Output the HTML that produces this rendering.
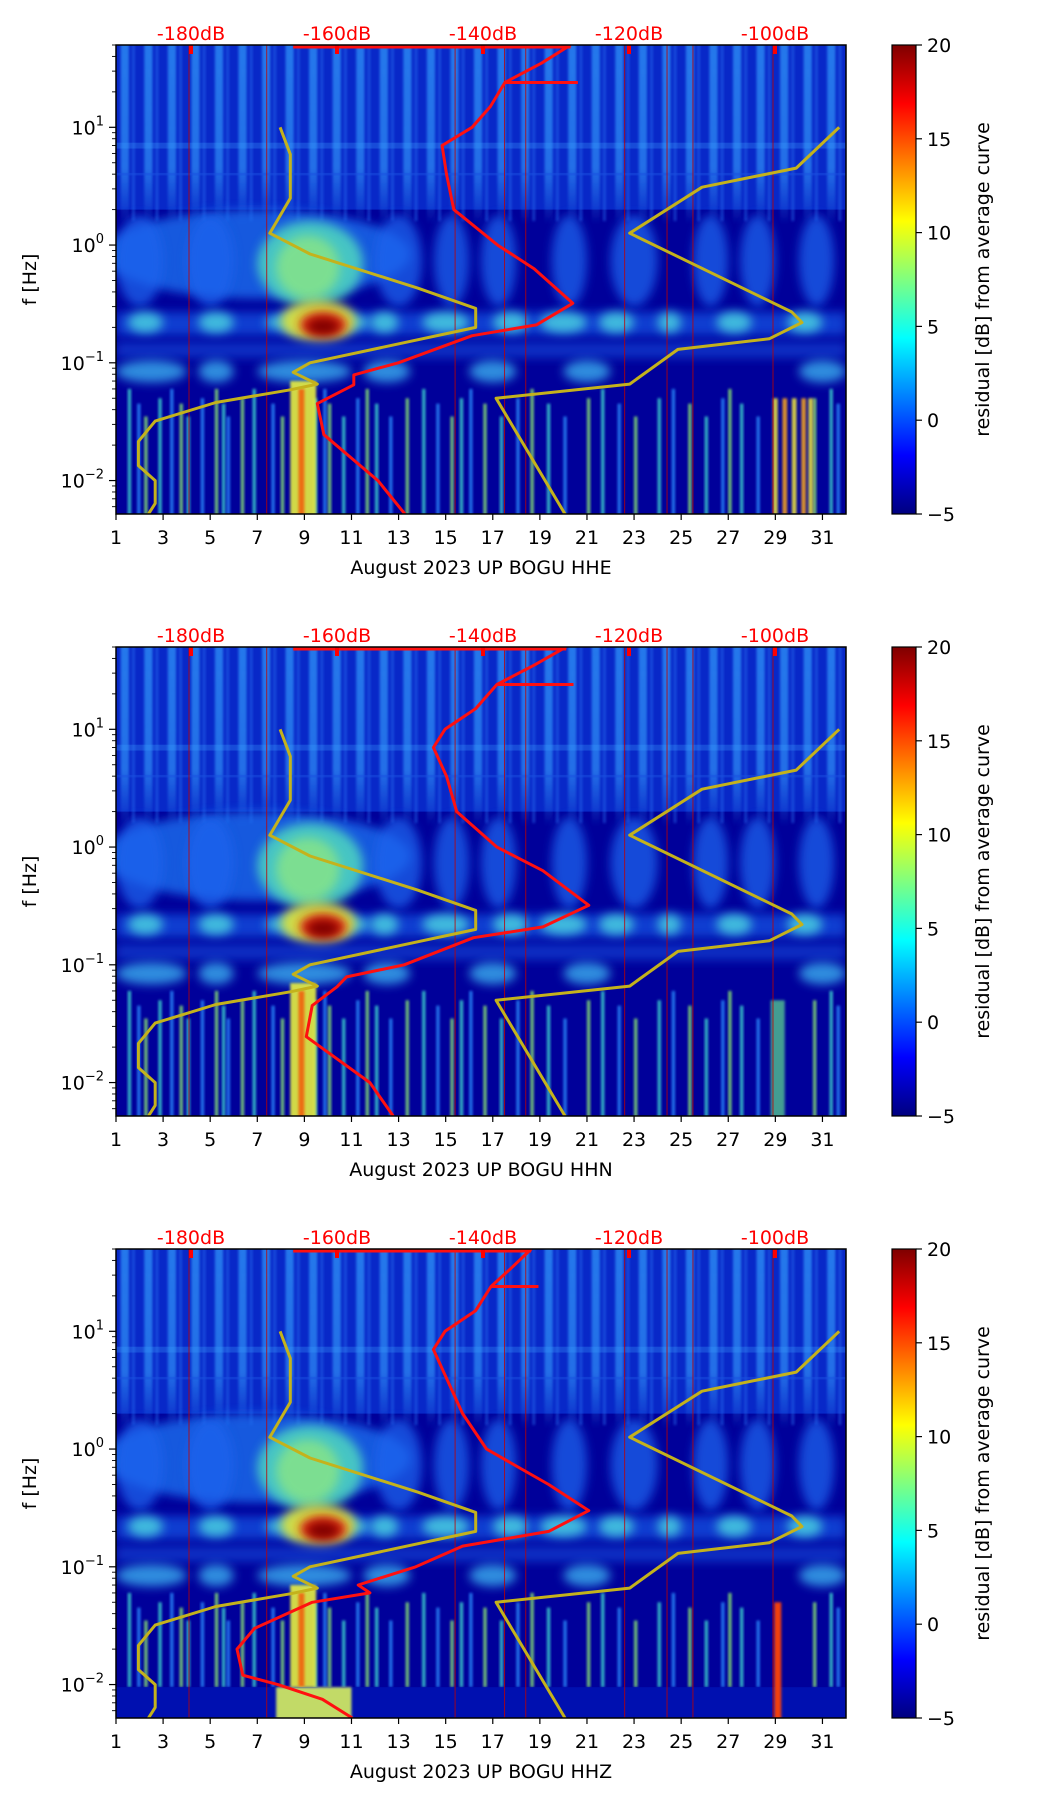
<!DOCTYPE html>
<html><head><meta charset="utf-8"><style>
html,body{margin:0;padding:0;background:#fff;}
svg{display:block;font-family:"DejaVu Sans","Liberation Sans",sans-serif;}
</style></head><body>
<svg id="fig" width="1052" height="1806" viewBox="0 0 1052 1806" xmlns="http://www.w3.org/2000/svg">
<defs>
<linearGradient id="jet" x1="0" y1="1" x2="0" y2="0">
<stop offset="0" stop-color="#00007f"/><stop offset="0.125" stop-color="#0000ff"/><stop offset="0.375" stop-color="#00ffff"/><stop offset="0.625" stop-color="#ffff00"/><stop offset="0.875" stop-color="#ff0000"/><stop offset="1" stop-color="#7f0000"/>
</linearGradient>
<linearGradient id="streakFade" x1="0" y1="0" x2="0" y2="1">
<stop offset="0" stop-color="#2e8df5" stop-opacity="0.8"/><stop offset="0.7" stop-color="#2e8df5" stop-opacity="0.7"/><stop offset="1" stop-color="#2e8df5" stop-opacity="0"/>
</linearGradient>
<linearGradient id="lowFade" x1="0" y1="0" x2="0" y2="1">
<stop offset="0" stop-color="#fff" stop-opacity="0"/><stop offset="0.3" stop-color="#fff" stop-opacity="1"/><stop offset="1" stop-color="#fff" stop-opacity="1"/>
</linearGradient>
<filter id="blur4" x="-50%" y="-50%" width="200%" height="200%"><feGaussianBlur stdDeviation="5"/></filter>
<filter id="blur2" x="-50%" y="-50%" width="200%" height="200%"><feGaussianBlur stdDeviation="1.2"/></filter>
</defs>
</svg>
<script>
// ---- data ----
const panelNames = ["HHE","HHN","HHZ"];
const dbTicks = [-180,-160,-140,-120,-100];
const dayTicks = [1,3,5,7,9,11,13,15,17,19,21,23,25,27,29,31];
const yDecades = [1,0,-1,-2];
const cbTicks = [-5,0,5,10,15,20];
// PSD curves (freq Hz, dB)
const psdFreq = [50,35,24,15,10,7,4,2,1,0.63,0.32,0.21,0.17,0.1,0.079,0.065,0.045,0.0245,0.01,0.0052];
const psdHHE = [-128,-132,-137,-139,-141.5,-145.6,-145,-144,-138,-133,-127.7,-132.7,-141.5,-151.6,-157.7,-157.7,-162.7,-161.8,-154.4,-150.7];
const psdHHN = [-128.6,-133,-138.1,-141,-145.2,-146.8,-145,-143.6,-138.1,-131.8,-125.5,-131.8,-141.3,-150.8,-158.7,-160,-163.4,-164.2,-155.5,-152.3];
const psdHHZFreq = [50,35,24,15,10,7,4,2,1,0.5,0.3,0.2,0.15,0.1,0.07,0.06,0.05,0.03,0.02,0.012,0.01,0.0075,0.0052];
const psdHHZ = [-133.4,-136,-138.9,-141,-145.2,-146.8,-145,-142.8,-139.5,-131,-125.5,-131,-142.8,-149.2,-157.1,-155.5,-163.4,-171.3,-173.7,-172.9,-168.1,-162,-157.9];
// noise models
const nlnmFreq = [10,5.9,2.5,1.26,0.84,0.43,0.29,0.2,0.1,0.083,0.066,0.059,0.046,0.032,0.0215,0.0134,0.01,0.0064,0.005];
const nlnmDb = [-167.8,-166.4,-166.4,-169.2,-163.7,-148.9,-141,-141,-163.7,-166,-162.7,-166.4,-176.6,-184.9,-187.2,-187.2,-184.9,-184.9,-186];
const nhnmFreq = [10,4.5,3.1,1.26,0.27,0.22,0.16,0.13,0.066,0.05,0.005];
const nhnmDb = [-91.2,-97.1,-110,-119.9,-97.7,-96.3,-100.8,-113.3,-119.9,-138.2,-128.6];
// spectrogram approximation features
const lowStreakDays = [1.5,1.9,2.2,2.8,3.3,3.7,4.0,4.6,5.2,5.5,5.7,6.3,6.8,7.6,8.0,9.4,9.8,10,10.6,11.2,11.6,12,12.6,13.3,14,14.6,15.2,15.6,16,16.6,17.3,18,18.6,19.3,20,21,21.6,22.3,23,24,24.6,25.3,26,26.7,27,27.5,28.2,30.6,31.3,31.6];
const redLineDays = [4.1,7.4,15.4,17.5,18.4,22.6,24.4,25.5,28.9];

const NS="http://www.w3.org/2000/svg";
const svg=document.getElementById('fig');
const L=116,R=846,W=730,H=469,tops=[45,647,1249];
const FMAX=Math.log10(50), FMIN=Math.log10(0.0052);
function X(d){return L+(d-1)/31*W;}
function Yf(top,f){return top+(FMAX-Math.log10(f))/(FMAX-FMIN)*H;}
function XdB(db){return 191+(db+180)*7.3;}
function el(tag,attrs,parent){const e=document.createElementNS(NS,tag);for(const k in attrs)e.setAttribute(k,attrs[k]);(parent||svg).appendChild(e);return e;}

function rectDF(g,top,d0,d1,f0,f1,fill,op,filt){
  const a={x:X(d0),y:Yf(top,f1),width:X(d1)-X(d0),height:Yf(top,f0)-Yf(top,f1),fill:fill};
  if(op!==undefined)a.opacity=op; if(filt)a.filter=filt;
  return el('rect',a,g);
}
function ellDF(g,top,d0,d1,f0,f1,fill,op){
  const y0=Yf(top,f1),y1=Yf(top,f0);
  return el('ellipse',{cx:(X(d0)+X(d1))/2,cy:(y0+y1)/2,rx:(X(d1)-X(d0))/2,ry:(y1-y0)/2,fill:fill,opacity:op,filter:'url(#blur4)'},g);
}

tops.forEach((top,pi)=>{
  const pg=el('g',{});
  
  
  const cid='clip'+pi;
  const cp=el('clipPath',{id:cid},pg); el('rect',{x:L,y:top,width:W,height:H},cp);
  const g=el('g',{'clip-path':'url(#'+cid+')'},pg);
  
  
  el('rect',{x:L,y:top,width:W,height:H,fill:'#00009a'},g);
  // upper region texture
  rectDF(g,top,1,32,2.0,60,'#0828c8');
  for(let d=1;d<32;d++){
    rectDF(g,top,d+0.2,d+0.55,1.5,60,'url(#streakFade)',1,'url(#blur2)');
    rectDF(g,top,d+0.68,d+0.8,1.6,60,'#2a70f0',0.5,'url(#blur2)');
  }
  rectDF(g,top,1,32,6.6,7.4,'#3aa0ff',0.3);
  rectDF(g,top,1,32,3.9,4.1,'#1a50e0',0.5);
  // mid band 0.3-2 Hz
  ellDF(g,top,0.5,13.5,0.35,2.0,'#1f70f0',0.8);
  [[1,3],[4,6],[12,14],[14.5,16],[16.5,18],[19.5,21],[22,24],[25.5,27],[27.5,29],[30,31.5]].forEach(s=>{
    ellDF(g,top,s[0],s[1],0.3,1.8,'#1e64ee',0.75);
  });
  ellDF(g,top,7,11.5,0.3,1.6,'#50d8c0',0.85);
  ellDF(g,top,7.8,10.5,0.35,1.2,'#a0f070',0.6);
  // microseism band
  rectDF(g,top,1,32,0.17,0.27,'#1858e8',0.7,'url(#blur4)');
  [[1.5,3],[4.5,6],[7.3,11.8],[11.8,13],[14,16],[17,18.5],[19,21],[21.5,23],[24,25],[26.5,28],[29.5,31]].forEach(s=>{
    ellDF(g,top,s[0],s[1],0.18,0.27,'#48d0e0',0.85);
  });
  ellDF(g,top,8.0,11.2,0.15,0.34,'#d8e040',0.95);
  ellDF(g,top,8.8,10.8,0.165,0.27,'#e02010',1);
  ellDF(g,top,9.1,10.5,0.172,0.24,'#800000',1);
  // 0.07-0.15 band
  rectDF(g,top,1,32,0.11,0.15,'#1450e0',0.6,'url(#blur4)');
  [[1,4],[4.5,6],[7,11],[11.5,13.5],[16,18],[20,22],[30,32]].forEach(s=>{
    ellDF(g,top,s[0],s[1],0.068,0.105,'#3ab0f0',0.8);
  });
  // low frequency streaks
  const lowBottom = pi==2?0.0095:0.004;
  lowStreakDays.forEach((d,i)=>{
    const c = i%3==0?'#40e0d0':(i%3==1?'#2a90ff':'#90f070');
    const fTop = [0.06,0.045,0.035,0.05][i%4];
    rectDF(g,top,d,d+0.14,lowBottom,fTop,c,0.8,'url(#blur2)');
  });
  rectDF(g,top,8.4,9.5,lowBottom,0.07,'#e8f040',0.9,'url(#blur2)');
  rectDF(g,top,8.75,9.0,lowBottom,0.06,'#f06010',0.9,'url(#blur2)');
  if(pi===0){ [28.9,29.3,29.7,30.1,30.4].forEach((d,i)=>rectDF(g,top,d,d+0.2,0.004,0.05,i%2?'#f0a020':'#e8e040',0.9,'url(#blur2)')); }
  if(pi===1) rectDF(g,top,28.8,29.4,0.004,0.05,'#60e090',0.7,'url(#blur2)');
  if(pi===2){
    rectDF(g,top,1,32,0.004,0.0095,'#0010b0');
    rectDF(g,top,7.8,11,0.004,0.0095,'#d8f060',0.9,'url(#blur2)');
    rectDF(g,top,28.95,29.25,0.004,0.05,'#f04010',1,'url(#blur2)');
  }
  redLineDays.forEach(d=>{
    const ln=el('line',{x1:X(d),x2:X(d),y1:top,y2:top+H,stroke:'#c00000','stroke-width':1,opacity:0.8},g);
    
    
  });
  function curve(fs,dbs,color,w,name){
    const pts=fs.map((f,i)=>XdB(dbs[i]).toFixed(1)+','+Yf(top,f).toFixed(1)).join(' ');
    const p=el('polyline',{points:pts,fill:'none',stroke:color,'stroke-width':w,'stroke-linejoin':'round'},g);
    
    
  }
  curve(nlnmFreq,nlnmDb,'#c4b21c',3,'nlnm-curve');
  curve(nhnmFreq,nhnmDb,'#c4b21c',3,'nhnm-curve');
  const pf = pi==2?psdHHZFreq:psdFreq;
  const pd = pi==0?psdHHE:(pi==1?psdHHN:psdHHZ);
  curve(pf,pd,'#ff1010',3,'psd-curve');
  const topLine=el('line',{x1:XdB(-166),x2:XdB(pd[0]),y1:top+2,y2:top+2,stroke:'#ff1010','stroke-width':3},g);
  
  
  el('line',{x1:XdB(pd[2]),x2:XdB(pd[0]+1),y1:Yf(top,24),y2:Yf(top,24),stroke:'#ff1010','stroke-width':3},g);
  dbTicks.forEach(db=>{
    el('rect',{x:XdB(db)-2,y:top,width:4,height:9,fill:'#ff0000'},g);
    const t=el('text',{x:XdB(db),y:top-5,'text-anchor':'middle','font-size':19,fill:'#ff0000'},pg);
    t.textContent=db+'dB';
    
    
  });
  el('rect',{x:L,y:top,width:W,height:H,fill:'none',stroke:'#000','stroke-width':1.5},pg);
  dayTicks.forEach(d=>{
    el('line',{x1:X(d),x2:X(d),y1:top+H,y2:top+H+6,stroke:'#000','stroke-width':1.2},pg);
    const t=el('text',{x:X(d),y:top+H+30,'text-anchor':'middle','font-size':19,fill:'#000'},pg);
    t.textContent=d;
    
    
  });
  const xt=el('text',{x:481,y:top+H+60,'text-anchor':'middle','font-size':19,fill:'#000'},pg);
  xt.textContent='August 2023 UP BOGU  '+panelNames[pi];
  
  
  for(let e=-3;e<=1;e++){
    for(let m=1;m<10;m++){
      const f=m*Math.pow(10,e); const y=Yf(top,f);
      if(y<top-0.5||y>top+H+0.5)continue;
      el('line',{x1:L-(m==1?7:4),x2:L,y1:y,y2:y,stroke:'#000','stroke-width':m==1?1.2:0.9},pg);
    }
  }
  yDecades.forEach(e=>{
    const y=Yf(top,Math.pow(10,e));
    const t=el('text',{x:L-12,y:y+7,'text-anchor':'end','font-size':19,fill:'#000'},pg);
    
    
    const a=el('tspan',{},t); a.textContent='10';
    const b=el('tspan',{dy:-9,'font-size':13},t); b.textContent=(e<0?'\u2212':'')+Math.abs(e);
  });
  const yt=el('text',{transform:'translate(36,'+(top+H/2)+') rotate(-90)','text-anchor':'middle','font-size':19,fill:'#000'},pg);
  yt.textContent='f [Hz]';
  
  
  const cb=el('rect',{x:892,y:top,width:24,height:H,fill:'url(#jet)',stroke:'#000','stroke-width':1.2},pg);
  
  
  cbTicks.forEach(v=>{
    const y=top+H-(v+5)/25*H;
    el('line',{x1:916,x2:922,y1:y,y2:y,stroke:'#000','stroke-width':1.2},pg);
    const t=el('text',{x:927,y:y+7,'font-size':19,fill:'#000'},pg);
    t.textContent=(v<0?'\u2212':'')+Math.abs(v);
    
    
  });
  const ct=el('text',{transform:'translate(989,'+(top+H/2)+') rotate(-90)','text-anchor':'middle','font-size':19,fill:'#000'},pg);
  ct.textContent='residual [dB] from average curve';
  
  
});
</script>
</body></html>
